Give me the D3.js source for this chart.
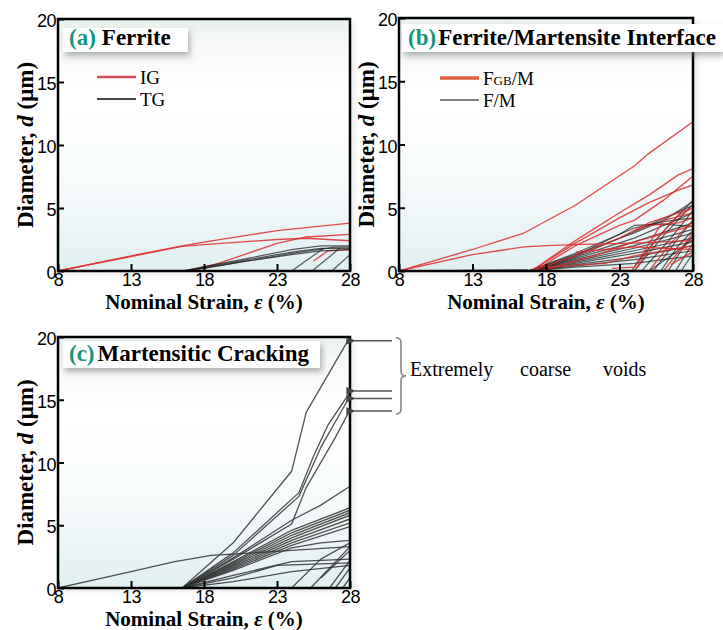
<!DOCTYPE html>
<html><head><meta charset="utf-8">
<script src="https://cdn.jsdelivr.net/npm/d3@7"></script>
<style>body{margin:0;background:#fff}svg{display:block}</style>
</head><body><svg id="c" width="723" height="630"></svg>
<script>
// ---------- DATA ----------
const xTicks = [8, 13, 18, 23, 28];
const yTicks = [0, 5, 10, 15, 20];
const xDomain = [8, 28];
const yDomain = [0, 20];

// (a) Ferrite: intergranular (IG) and transgranular (TG) void diameters vs strain
const ferriteIG = [
  [[8,0],[13,1.2],[16.5,2.0],[18,2.3],[23,3.2],[28,3.8]],
  [[8,0],[13,1.15],[16.5,1.95],[18,2.1],[23,2.5],[25,2.6],[28,2.4]],
  [[17,0],[19,0.6],[21,1.4],[23,2.2],[25,2.7],[28,2.9]],
  [[25.5,0.8],[26.5,1.6],[28,1.7]]
];
const ferriteTG = [
  [[16.5,0],[18,0.3],[21,0.9],[24,1.5],[26,1.8],[28,1.8]],
  [[16.5,0],[18,0.35],[21,1.0],[24,1.7],[26,2.0],[28,2.0]],
  [[16.5,0],[18,0.25],[21,0.8],[24,1.3],[26,1.6],[28,1.7]],
  [[17,0],[20,0.6],[24,1.4],[27,1.9],[28,1.9]],
  [[24,0],[26.2,1.8]],
  [[25.4,0],[27.3,1.8]],
  [[26.75,0],[28,1.3]]
];

// (b) Ferrite/Martensite interface: F_GB/M (red) and F/M (black)
const interfaceFGB = [
  [[8,0],[13,1.7],[16.5,3.0],[20,5.2],[24,8.3],[25,9.3],[28,11.8]],
  [[8,0],[13,1.3],[16.5,1.9],[18,2.0],[20.5,2.1],[24,2.2],[28,2.4]],
  [[17,0],[20,2.4],[23,4.6],[25,6.0],[27,7.6],[28,8.1]],
  [[17,0],[20,2.2],[23,4.2],[25,5.4],[27,6.4],[28,6.8]],
  [[17.2,0],[20,2.0],[23,3.6],[24,4.0],[26,5.6],[28,7.5]],
  [[17,0],[20,1.2],[23,2.6],[25,3.8],[28,5.0]],
  [[17.5,0],[21,1.1],[24,2.3],[28,3.6]],
  [[18,0.3],[22,0.6],[24,1.2],[28,2.0]],
  [[22.5,0.2],[24,0.3],[26,4.0],[28,4.6]],
  [[24,0],[25.5,2.5],[27,4.4],[28,5.0]],
  [[25,0],[26.5,2.2],[28,4.0]],
  [[26,0],[27,1.5],[28,3.0]],
  [[26.5,0.5],[27.5,1.2],[28,1.5]],
  [[24,3.2],[25,3.6],[27,3.8],[28,4.2]],
  [[20,1.5],[24,1.9],[28,1.7]]
];
const interfaceFM = [
  [[8,0],[13,0.05],[16.8,0.1]],
  [[16.8,0],[20,1.4],[24,3.4],[26,3.9],[28,4.2]],
  [[16.8,0],[20,1.3],[24,3.0],[26,4.0],[28,5.5]],
  [[16.8,0],[20,1.1],[24,2.6],[28,4.6]],
  [[16.8,0],[20,1.0],[24,2.3],[28,3.8]],
  [[16.8,0],[20,0.9],[24,2.0],[28,3.3]],
  [[16.8,0],[20,0.8],[24,1.8],[28,3.0]],
  [[16.8,0],[20,0.7],[24,1.6],[28,2.6]],
  [[16.8,0],[20,0.6],[24,1.4],[28,2.3]],
  [[16.8,0],[20,0.5],[24,1.1],[28,2.0]],
  [[16.8,0],[20,0.4],[24,0.9],[28,1.6]],
  [[16.8,0],[20,0.3],[24,0.6],[28,1.2]],
  [[17,0],[20,1.2],[23,2.9],[24,3.6],[26,3.7],[28,3.5]],
  [[17,0],[21,1.6],[24,3.1],[28,5.2]],
  [[24,0],[26,2.8],[28,5.3]],
  [[24.5,0],[26.5,2.6],[28,4.8]],
  [[25.3,0],[27,2.6],[28,4.0]],
  [[25.8,0],[27,2.0],[28,3.2]],
  [[26.3,0],[27.3,1.8],[28,2.8]],
  [[26.8,0],[28,2.2]],
  [[27.2,0],[28,1.4]],
  [[25,0],[26.5,1.2],[28,2.5]],
  [[23.8,0],[25,1.8],[26.5,3.8],[28,5.6]]
];

// (c) Martensitic cracking
const martensiteCrack = [
  [[8,0],[13,1.3],[16,2.1],[18.5,2.6],[20,2.7],[24,3.0],[28,3.3]],
  [[16.5,0],[20,3.6],[24,9.3],[25,14],[28,20]],
  [[16.5,0],[20,2.8],[24.5,7.6],[25.5,10.5],[26.5,13],[28,15.6]],
  [[16.5,0],[20,2.6],[24.5,7.3],[26,11.2],[28,15.3]],
  [[16.5,0],[20,2.3],[24,5.1],[25,8],[27,12],[28,14.2]],
  [[16.5,0],[20,2.4],[24,5.4],[26,6.6],[28,8.1]],
  [[16.5,0],[20,2.1],[24,4.6],[28,6.4]],
  [[16.5,0],[20,2.0],[24,4.4],[28,6.2]],
  [[16.5,0],[20,1.9],[24,4.2],[28,6.0]],
  [[16.5,0],[20,1.8],[24,4.0],[28,5.8]],
  [[16.5,0],[20,1.7],[24,3.8],[28,5.5]],
  [[16.5,0],[20,1.6],[24,3.6],[28,5.2]],
  [[16.5,0],[20,1.5],[24,3.4],[28,4.9]],
  [[16.5,0],[20,1.4],[24,3.2],[26,3.6],[28,3.8]],
  [[16.5,0],[20,1.0],[24,2.1],[28,2.3]],
  [[16.5,0],[20,0.8],[23,1.8],[28,2.0]],
  [[16.5,0],[20,0.5],[24,1.3],[28,1.8]],
  [[24,0],[26,2.3],[28,3.6]],
  [[25.3,0],[28,3.3]],
  [[26,0.8],[28,3.0]],
  [[26.6,0],[28,2.2]],
  [[27,0],[28,1.6]],
  [[27.5,0],[28,0.8]]
];
const coarseVoidTargets = [19.7, 15.7, 15.1, 14.1];
const annotationWords = ["Extremely", "coarse", "voids"];

// ---------- DRAWING ----------
const svg = d3.select("#c");
const defs = svg.append("defs");
const grad = defs.append("linearGradient").attr("id","bg").attr("x1",0).attr("x2",0).attr("y1",0).attr("y2",1);
[[0,"#e9f1ec"],[0.1,"#f6f9f7"],[0.3,"#ffffff"],[0.65,"#f6fafb"],[1,"#e1eff1"]]
  .forEach(([o,c]) => grad.append("stop").attr("offset",o).attr("stop-color",c));
const sh = defs.append("filter").attr("id","sh").attr("x","-10%").attr("y","-30%").attr("width","130%").attr("height","190%");
sh.append("feDropShadow").attr("dx",2).attr("dy",4).attr("stdDeviation",3).attr("flood-color","#666").attr("flood-opacity",0.5);
const fsh = defs.append("filter").attr("id","fsh").attr("x","-5%").attr("y","-5%").attr("width","115%").attr("height","115%");
fsh.append("feDropShadow").attr("dx",4).attr("dy",3).attr("stdDeviation",3).attr("flood-color","#aaa").attr("flood-opacity",0.3);

const serif = "'Liberation Serif','Times New Roman',serif";
const sans = "'Liberation Sans',Arial,sans-serif";
const teal = "#17957a";

function panel(id, L, R, T, B, groups, title, titleBox, yTitleX) {
  const x = d3.scaleLinear().domain(xDomain).range([L, R]);
  const y = d3.scaleLinear().domain(yDomain).range([B, T]);
  const g = svg.append("g");
  defs.append("clipPath").attr("id","clip"+id).append("rect")
    .attr("x",L).attr("y",T).attr("width",R-L).attr("height",B-T);
  g.append("rect").attr("x",L).attr("y",T).attr("width",R-L).attr("height",B-T)
    .attr("fill","url(#bg)").attr("filter","url(#fsh)");
  const line = d3.line().x(d=>x(d[0])).y(d=>y(d[1])).curve(d3.curveLinear);
  const lg = g.append("g").attr("clip-path","url(#clip"+id+")");
  groups.forEach(gr => {
    lg.selectAll(null).data(gr.data).join("path")
      .attr("d", line).attr("fill","none")
      .attr("stroke", gr.color).attr("stroke-width", gr.width).attr("stroke-opacity", gr.opacity)
      .attr("stroke-linejoin","round");
  });
  // frame
  g.append("rect").attr("x",L).attr("y",T).attr("width",R-L).attr("height",B-T)
    .attr("fill","none").attr("stroke","#000").attr("stroke-width",2.5);
  // axes with inward ticks
  const xa = g.append("g").attr("transform",`translate(0,${B})`)
    .call(d3.axisBottom(x).tickValues(xTicks).tickSizeInner(-7).tickSizeOuter(0).tickPadding(6));
  xa.select(".domain").remove();
  xa.selectAll(".tick line").attr("stroke","#000").attr("stroke-width",2);
  xa.selectAll(".tick text").attr("font-family",sans).attr("font-size",18).attr("fill","#000")
    .attr("y",2).attr("dy","0.71em").attr("letter-spacing","-0.5");
  const ya = g.append("g").attr("transform",`translate(${L},0)`)
    .call(d3.axisLeft(y).tickValues(yTicks).tickSizeInner(-6).tickSizeOuter(0).tickPadding(3));
  ya.select(".domain").remove();
  ya.selectAll(".tick line").attr("stroke","#000").attr("stroke-width",2);
  ya.selectAll(".tick text").attr("font-family",sans).attr("font-size",18).attr("fill","#000")
    .attr("x",-2).attr("dy","0.42em").attr("letter-spacing","-0.5");
  // axis titles
  const xt = g.append("text").attr("x",(L+R)/2).attr("y",B+38).attr("text-anchor","middle")
    .attr("font-family",serif).attr("font-weight","bold").attr("font-size",21);
  xt.append("tspan").text("Nominal Strain, ");
  xt.append("tspan").attr("font-style","italic").text("ε");
  xt.append("tspan").text(" (%)");
  const yt = g.append("text").attr("transform",`translate(${yTitleX},${(T+B)/2}) rotate(-90)`)
    .attr("text-anchor","middle").attr("font-family",serif).attr("font-weight","bold").attr("font-size",23);
  yt.append("tspan").text("Diameter, ");
  yt.append("tspan").attr("font-style","italic").text("d");
  yt.append("tspan").text(" (μm)");
  // title box
  g.append("rect").attr("x",titleBox[0]).attr("y",titleBox[1]).attr("width",titleBox[2]).attr("height",titleBox[3])
    .attr("fill","#fff").attr("filter","url(#sh)");
  const tt = g.append("text").attr("x",titleBox[0]+6).attr("y",titleBox[1]+titleBox[3]-7)
    .attr("font-family",serif).attr("font-weight","bold").attr("font-size",title.size);
  tt.append("tspan").attr("fill",teal).text(title.tag);
  tt.append("tspan").attr("fill","#000").attr("dx",title.gap).text(title.text);
  return {x, y, g};
}

const red = "#dd2a2a", blk = "#1a1a1a";

const A = panel("a", 58, 350, 19, 271,
  [{data: ferriteIG, color: red, width: 1.3, opacity: 0.85},
   {data: ferriteTG, color: blk, width: 1.2, opacity: 0.7}],
  {tag:"(a)", text:"Ferrite", size:23, gap:6}, [63, 28, 125, 24], 33);

const Bp = panel("b", 399, 693, 18, 271,
  [{data: interfaceFM, color: blk, width: 1.2, opacity: 0.7},
   {data: interfaceFGB, color: red, width: 1.3, opacity: 0.85}],
  {tag:"(b)", text:"Ferrite/Martensite Interface", size:23, gap:2}, [402, 24, 321, 28], 374);

const C = panel("c", 58, 350, 337, 588,
  [{data: martensiteCrack, color: "#333", width: 1.3, opacity: 0.85}],
  {tag:"(c)", text:"Martensitic Cracking", size:23, gap:3}, [63, 341, 257, 27], 33);

// legends
function legend(g, x0, x1, items) {
  items.forEach(it => {
    g.append("line").attr("x1",x0).attr("x2",x1).attr("y1",it.y).attr("y2",it.y)
      .attr("stroke",it.color).attr("stroke-width",it.w).attr("stroke-opacity",it.op);
    const t = g.append("text").attr("x",x1+4).attr("y",it.y+7)
      .attr("font-family",serif).attr("font-size",19);
    it.parts.forEach(p => t.append("tspan").attr("font-size",p[1]||19).text(p[0]));
  });
}
legend(A.g, 97, 136, [
  {y:77, color:"#d43a4a", w:2.5, op:0.9, parts:[["IG"]]},
  {y:99, color:"#333", w:2.2, op:0.9, parts:[["TG"]]}
]);
legend(Bp.g, 440, 479, [
  {y:78, color:"#dd5533", w:3.5, op:0.95, parts:[["F"],["GB",13],["/M"]]},
  {y:100, color:"#444", w:1.6, op:0.9, parts:[["F/M"]]}
]);

// annotation: extremely coarse voids
const ann = svg.append("g");
defs.append("marker").attr("id","arr").attr("viewBox","0 0 10 10").attr("refX",1).attr("refY",5)
  .attr("markerWidth",6).attr("markerHeight",6).attr("orient","auto-start-reverse")
  .append("path").attr("d","M10,1 L0,5 L10,9 Z").attr("fill","#444");
coarseVoidTargets.forEach(v => {
  ann.append("line").attr("x1",392).attr("x2",355).attr("y1",C.y(v)).attr("y2",C.y(v))
    .attr("stroke","#555").attr("stroke-width",1.6).attr("marker-end","url(#arr)");
});
const yt0 = C.y(d3.max(coarseVoidTargets)) - 3, yt1 = C.y(d3.min(coarseVoidTargets)) + 3, ym = (yt0+yt1)/2;
ann.append("path").attr("fill","none").attr("stroke","#888").attr("stroke-width",1.6)
  .attr("d",`M396,${yt0} Q401,${yt0} 401,${yt0+5} L401,${ym-5} Q401,${ym} 406,${ym} Q401,${ym} 401,${ym+5} L401,${yt1-5} Q401,${yt1} 396,${yt1}`);
const wordX = [410, 520, 603];
annotationWords.forEach((w,i) => {
  ann.append("text").attr("x",wordX[i]).attr("y",ym).attr("font-family",serif).attr("font-size",20).text(w);
});
</script></body></html>
